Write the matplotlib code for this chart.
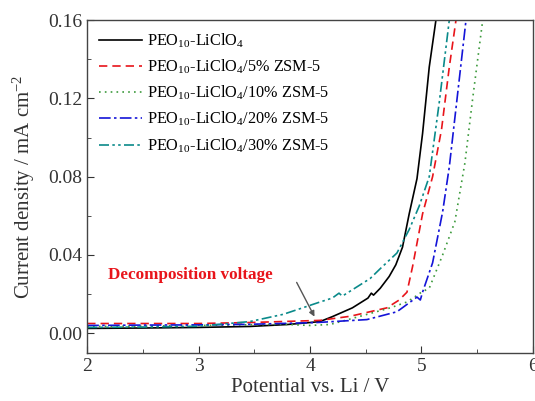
import matplotlib
matplotlib.use("Agg")
import matplotlib.pyplot as plt
from matplotlib.ticker import MultipleLocator

plt.rcParams['font.family'] = ['Liberation Serif', 'DejaVu Serif']
plt.rcParams['mathtext.fontset'] = 'custom'
plt.rcParams['mathtext.rm'] = 'Liberation Serif'
plt.rcParams['mathtext.it'] = 'Liberation Serif:italic'
plt.rcParams['mathtext.bf'] = 'Liberation Serif:bold'

labels = [r'PEO$_{10}$-LiClO$_4$',
          r'PEO$_{10}$-LiClO$_4$/5% ZSM-5',
          r'PEO$_{10}$-LiClO$_4$/10% ZSM-5',
          r'PEO$_{10}$-LiClO$_4$/20% ZSM-5',
          r'PEO$_{10}$-LiClO$_4$/30% ZSM-5']

x_black = [2.0, 2.5, 3.0, 3.46, 3.8, 4.0, 4.09, 4.2, 4.38, 4.52, 4.55, 4.57, 4.63, 4.71, 4.77, 4.83, 4.89, 4.96, 5.01, 5.07, 5.13]
y_black = [0.0025, 0.0027, 0.003, 0.0035, 0.0045, 0.0055, 0.006, 0.0085, 0.013, 0.018, 0.0205, 0.0195, 0.023, 0.029, 0.035, 0.044, 0.061, 0.079, 0.102, 0.136, 0.16]

x_red = [2.0, 2.5, 3.0, 3.46, 4.09, 4.36, 4.69, 4.80, 4.87, 4.92, 5.01, 5.10, 5.18, 5.25, 5.31]
y_red = [0.005, 0.005, 0.005, 0.0055, 0.0066, 0.0087, 0.013, 0.017, 0.021, 0.034, 0.061, 0.080, 0.104, 0.136, 0.16]

x_green = [2.0, 2.5, 3.0, 3.76, 4.0, 4.18, 4.45, 4.72, 4.87, 4.95, 5.0, 5.07, 5.19, 5.30, 5.39, 5.46, 5.55]
y_green = [0.0035, 0.0037, 0.004, 0.0046, 0.004, 0.0045, 0.0087, 0.013, 0.016, 0.019, 0.021, 0.023, 0.040, 0.057, 0.087, 0.12, 0.16]

x_blue = [2.0, 2.5, 3.0, 3.46, 4.06, 4.51, 4.78, 4.96, 4.99, 5.01, 5.10, 5.19, 5.25, 5.32, 5.40]
y_blue = [0.004, 0.0042, 0.0043, 0.0046, 0.0055, 0.007, 0.011, 0.0185, 0.017, 0.021, 0.036, 0.062, 0.085, 0.12, 0.16]

x_teal = [2.0, 2.5, 3.0, 3.46, 3.76, 4.09, 4.2, 4.26, 4.29, 4.54, 4.63, 4.78, 4.89, 4.98, 5.07, 5.16, 5.25]
y_teal = [0.003, 0.0032, 0.0036, 0.006, 0.0097, 0.016, 0.018, 0.0205, 0.019, 0.028, 0.033, 0.041, 0.053, 0.065, 0.080, 0.118, 0.16]

fig = plt.figure(figsize=(5.35, 4.01), dpi=100)
ax = fig.add_axes([0.163, 0.12, 0.833, 0.83])

lw = 1.2
ax.plot(x_black, y_black, color='black', lw=lw, ls='-', label=labels[0])
ax.plot(x_red, y_red, color='#e8141a', lw=lw, ls=(0, (5, 3)), label=labels[1])
ax.plot(x_green, y_green, color='#3c9a3c', lw=lw, ls=(0, (1, 2.5)), label=labels[2])
ax.plot(x_blue, y_blue, color='#1414d8', lw=lw, ls=(0, (7, 2, 1.5, 2)), label=labels[3])
ax.plot(x_teal, y_teal, color='#0a8a8a', lw=lw, ls=(0, (6, 2, 1.5, 2, 1.5, 2)), label=labels[4])

ax.set_xlim(2, 6)
ax.set_ylim(-0.01, 0.16)
ax.xaxis.set_major_locator(MultipleLocator(1))
ax.xaxis.set_minor_locator(MultipleLocator(0.5))
ax.yaxis.set_major_locator(MultipleLocator(0.04))
ax.yaxis.set_minor_locator(MultipleLocator(0.02))
ax.yaxis.set_major_formatter(matplotlib.ticker.FormatStrFormatter('%.2f'))
ax.tick_params(which='both', direction='in', labelsize=14, colors='#333333')
ax.tick_params(which='major', length=5)
ax.tick_params(which='minor', length=3)
for s in ax.spines.values():
    s.set_color('#444444')
    s.set_linewidth(1.0)

ax.set_xlabel('Potential vs. Li / V', fontsize=15, color='#333333', labelpad=2)
ax.set_ylabel(r'Current density / mA cm$^{-2}$', fontsize=15, color='#333333', labelpad=8)

ax.legend(loc='upper left', frameon=False, fontsize=11.7, handlelength=2.7,
          handletextpad=0.25, labelspacing=0.48, borderaxespad=0.3,
          bbox_to_anchor=(0.0, 1.0))

ax.text(2.19, 0.030, 'Decomposition voltage', color='#e8141a', fontsize=12.3,
        fontweight='bold', va='center', ha='left')
ax.annotate('', xy=(4.04, 0.0085), xytext=(3.88, 0.026),
            arrowprops=dict(arrowstyle='-|>', color='#555555', lw=1.0,
                            mutation_scale=8, shrinkA=0, shrinkB=0))

fig.savefig('out.png', dpi=100)
